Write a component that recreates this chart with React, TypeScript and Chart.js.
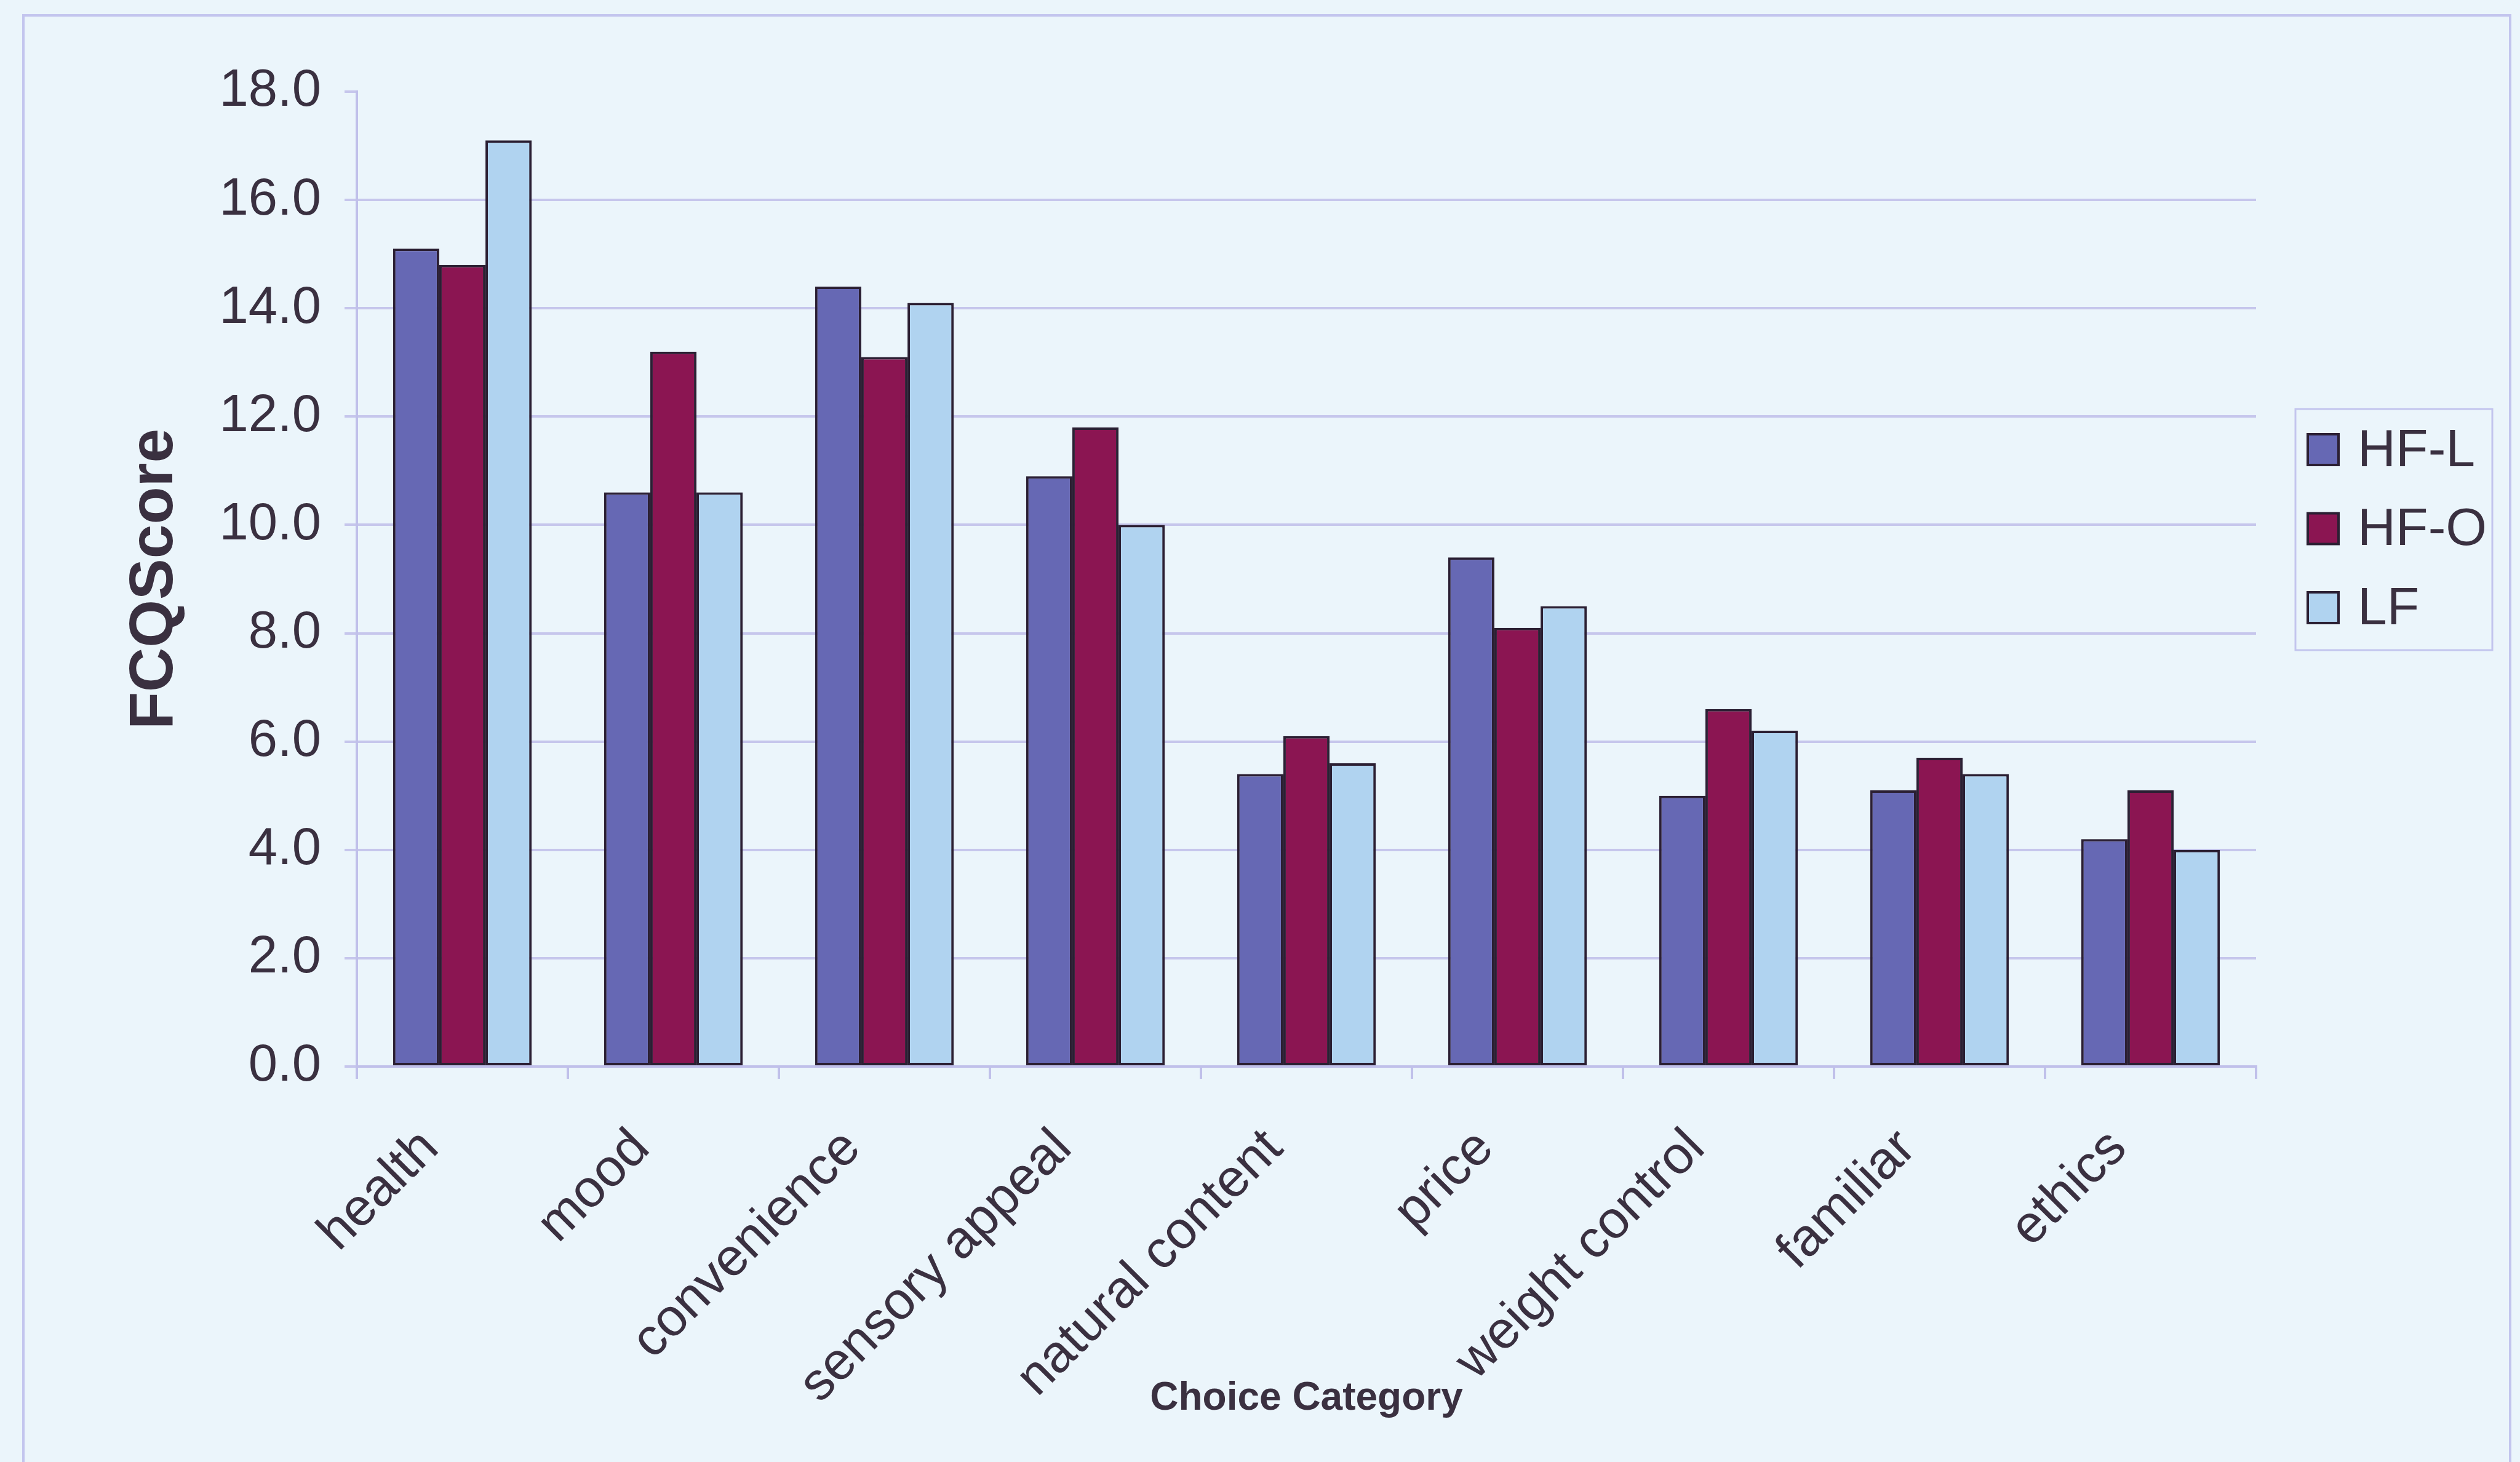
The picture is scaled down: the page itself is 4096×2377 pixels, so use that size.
import React, { useEffect, useRef } from 'react';
import { Chart, registerables } from 'chart.js';

Chart.register(...registerables);

// ---- data ----
const categories = [
  'health',
  'mood',
  'convenience',
  'sensory appeal',
  'natural content',
  'price',
  'weight control',
  'familiar',
  'ethics',
];
const seriesNames = ['HF-L', 'HF-O', 'LF'];
const hflValues = [15.1, 10.6, 14.4, 10.9, 5.4, 9.4, 5.0, 5.1, 4.2];
const hfoValues = [14.8, 13.2, 13.1, 11.8, 6.1, 8.1, 6.6, 5.7, 5.1];
const lfValues = [17.1, 10.6, 14.1, 10.0, 5.6, 8.5, 6.2, 5.4, 4.0];
const yTickValues = [0, 2, 4, 6, 8, 10, 12, 14, 16, 18];
const yAxisTitle = 'FCQScore';
const xAxisTitle = 'Choice Category';

// ---- styling ----
const W = 4096;
const H = 2377;
const FONT = '"Liberation Sans", Arial, Helvetica, sans-serif';
const TEXT = '#3a3040';
const BG = '#ebf5fb';
const FRAME = '#c3c5ee';
const GRID = '#c6c6ec';
const AXIS = '#c0c0ea';
const BAR_BORDER = '#2b1f33';
const COLORS = ['#6668b4', '#8b1552', '#b0d3f0'];
const AREA = { left: 580, right: 3667, top: 149, bottom: 1734 };

const framePlugin = {
  id: 'framePlugin',
  beforeDraw(chart: any) {
    const ctx = chart.ctx;
    ctx.save();
    ctx.fillStyle = BG;
    ctx.fillRect(0, 0, chart.width, chart.height);
    ctx.strokeStyle = FRAME;
    ctx.lineWidth = 4;
    ctx.strokeRect(38, 25, 4080 - 38, H + 40);
    ctx.restore();
  },
};

const legendPlugin = {
  id: 'customLegend',
  afterDraw(chart: any) {
    const ctx = chart.ctx;
    const box = { x: 3731, y: 665, w: 320, h: 392 };
    ctx.save();
    ctx.fillStyle = BG;
    ctx.fillRect(box.x, box.y, box.w, box.h);
    ctx.strokeStyle = FRAME;
    ctx.lineWidth = 3;
    ctx.strokeRect(box.x, box.y, box.w, box.h);
    chart.data.datasets.forEach((ds: any, i: number) => {
      const cy = box.y + 66 + i * 128.5;
      const s = 50;
      ctx.fillStyle = ds.backgroundColor;
      ctx.fillRect(3751, cy - s / 2, s, s);
      ctx.strokeStyle = BAR_BORDER;
      ctx.lineWidth = 4;
      ctx.strokeRect(3751, cy - s / 2, s, s);
      ctx.fillStyle = TEXT;
      ctx.font = `86px ${FONT}`;
      ctx.textAlign = 'left';
      ctx.textBaseline = 'middle';
      ctx.fillText(ds.label, 3832, cy + 3);
    });
    ctx.restore();
  },
};

export default function App() {
  const canvasRef = useRef<HTMLCanvasElement | null>(null);

  useEffect(() => {
    const canvas = canvasRef.current;
    if (!canvas) return;
    const valueSets = [hflValues, hfoValues, lfValues];
    const chart = new Chart(canvas, {
      type: 'bar',
      data: {
        labels: categories,
        datasets: seriesNames.map((name, i) => ({
          label: name,
          data: valueSets[i],
          backgroundColor: COLORS[i],
          borderColor: BAR_BORDER,
          borderWidth: 4,
          borderSkipped: false,
          categoryPercentage: 0.657,
          barPercentage: 1.0,
        })),
      },
      options: {
        responsive: false,
        maintainAspectRatio: false,
        animation: false,
        devicePixelRatio: 1,
        events: [],
        layout: {
          padding: { left: 0, top: AREA.top, right: W - AREA.right, bottom: 0 },
        },
        plugins: {
          legend: { display: false },
          tooltip: { enabled: false },
        },
        scales: {
          x: {
            offset: true,
            grid: {
              offset: true,
              drawOnChartArea: false,
              drawTicks: true,
              tickLength: 20,
              color: AXIS,
              lineWidth: 4,
            },
            border: { display: true, color: AXIS, width: 4 },
            ticks: {
              autoSkip: false,
              minRotation: 45,
              maxRotation: 45,
              padding: 63,
              labelOffset: -52,
              color: TEXT,
              font: { family: FONT, size: 86, lineHeight: 1.2 },
            },
            title: {
              display: true,
              text: xAxisTitle,
              color: TEXT,
              font: { family: FONT, size: 64, weight: 'bold', lineHeight: 1.2 },
              padding: { top: 0, bottom: 64 },
            },
            afterFit: (scale: any) => {
              scale.height = H - AREA.bottom;
            },
          },
          y: {
            min: 0,
            max: 18,
            afterBuildTicks: (scale: any) => {
              scale.ticks = yTickValues.map((v) => ({ value: v }));
            },
            ticks: {
              padding: 38,
              color: TEXT,
              font: { family: FONT, size: 85 },
              callback: (v: any) => Number(v).toFixed(1),
            },
            grid: {
              color: (c: any) => (c.tick && c.tick.value === 18 ? 'rgba(0,0,0,0)' : GRID),
              tickColor: GRID,
              lineWidth: 4,
              tickLength: 20,
              drawTicks: true,
            },
            border: { display: true, color: AXIS, width: 4 },
            title: {
              display: true,
              text: yAxisTitle,
              color: TEXT,
              font: { family: FONT, size: 100, weight: 'bold', lineHeight: 1.2 },
              padding: { top: 192, bottom: 0 },
            },
            afterFit: (scale: any) => {
              scale.width = AREA.left;
            },
          },
        },
      },
      plugins: [framePlugin, legendPlugin],
    } as any);
    return () => chart.destroy();
  }, []);

  return (
    <div
      style={{
        position: 'absolute',
        left: 0,
        top: 0,
        width: W,
        height: H,
        overflow: 'hidden',
        background: BG,
      }}
    >
      <canvas ref={canvasRef} width={W} height={H} style={{ display: 'block', width: W, height: H }} />
    </div>
  );
}
